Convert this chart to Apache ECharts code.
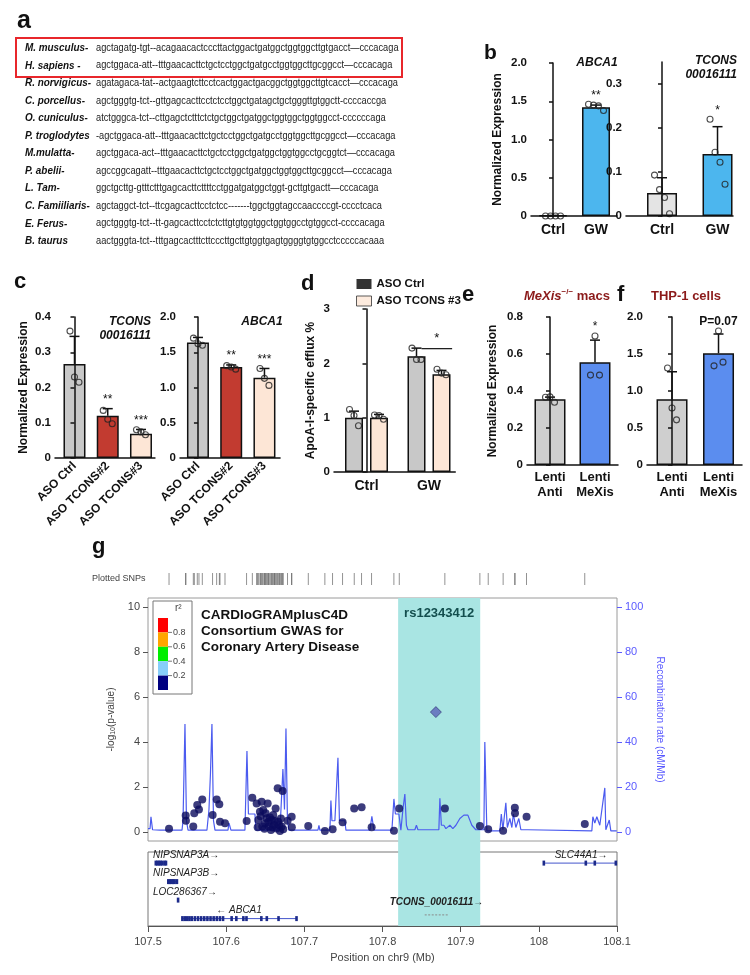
<!DOCTYPE html>
<html>
<head>
<meta charset="utf-8">
<script src="https://cdn.jsdelivr.net/npm/echarts@6/dist/echarts.min.js"></script>
<style>
html, body { margin: 0; padding: 0; background: #fff; }
#chart { width: 750px; height: 975px; }
</style>
</head>
<body>
<div id="chart"></div>
<script>
const FONT = '"Liberation Sans", Arial, sans-serif';

// ---- panel a : alignment
const seqSpecies = ['M. musculus-', 'H. sapiens -', 'R. norvigicus-', 'C. porcellus-', 'O. cuniculus-', 'P. troglodytes',
  'M.mulatta-', 'P. abelii-', 'L. Tam-', 'C. Famiiliaris-', 'E. Ferus-', 'B. taurus'];
const seqBases = [
  'agctagatg-tgt--acagaacactcccttactggactgatggctggtggcttgtgacct\u2014cccacaga',
  'agctggaca-att--tttgaacacttctgctcctggctgatgcctggtggcttgcggcct\u2014cccacaga',
  'agatagaca-tat--actgaagtcttcctcactggactgacggctggtggcttgtcacct\u2014cccacaga',
  'agctgggtg-tct--gttgagcacttcctctcctggctgatagctgctgggttgtggctt-ccccaccga',
  'atctgggca-tct--cttgagctctttctctgctggctgatggctggtggctggtggcct-ccccccaga',
  '-agctggaca-att--tttgaacacttctgctcctggctgatgcctggtggcttgcggcct\u2014cccacaga',
  'agctggaca-act--tttgaacacttctgctcctggctgatggctggtggcctgcggtct\u2014cccacaga',
  'agccggcagatt--tttgaacacttctgctcctggctgatggctggtggcttgcggcct\u2014cccacaga',
  'ggctgcttg-gtttctttgagcacttcttttcctggatgatggctggt-gcttgtgactt\u2014cccacaga',
  'agctaggct-tct--ttcgagcacttcctctcc-------tggctggtagccaaccccgt-cccctcaca',
  'agctgggtg-tct--tt-gagcacttcctctcttgtgtggtggctggtggcctgtggcct-ccccacaga',
  'aactgggta-tct--tttgagcactttcttcccttgcttgtggtgagtggggtgtggcctcccccacaaa'
];

// ---- panel b
const bCats = ['Ctrl', 'GW'];
const bAbcaMean = [0.006, 1.42];
const bAbcaSd = [0.002, 0.03];
const bAbcaPts = [[0, 0, 0, 0], [1.46, 1.45, 1.44, 1.38]];
const bAbcaSig = ['', '**'];
const bTconsMean = [0.052, 0.141];
const bTconsSd = [0.035, 0.062];
const bTconsPts = [[0.093, 0.06, 0.042, 0.005], [0.22, 0.145, 0.122, 0.072]];
const bTconsSig = ['', '*'];

// ---- panel c
const cCats = ['ASO Ctrl', 'ASO TCONS#2', 'ASO TCONS#3'];
const cTconsMean = [0.267, 0.12, 0.069];
const cTconsSd = [0.078, 0.02, 0.012];
const cTconsPts = [[0.36, 0.23, 0.215], [0.135, 0.11, 0.097], [0.08, 0.074, 0.066]];
const cTconsSig = ['', '**', '***'];
const cAbcaMean = [1.64, 1.29, 1.14];
const cAbcaSd = [0.07, 0.03, 0.13];
const cAbcaPts = [[1.7, 1.62, 1.6], [1.31, 1.29, 1.26], [1.27, 1.13, 1.03]];
const cAbcaSig = ['', '**', '***'];

// ---- panel d
const dCats = ['Ctrl', 'GW'];
const dCtrlMean = [1.0, 2.13];
const dCtrlSd = [0.12, 0.15];
const dCtrlPts = [[1.15, 1.04, 0.85], [2.28, 2.07, 2.07]];
const dTconsMean = [1.0, 1.8];
const dTconsSd = [0.06, 0.07];
const dTconsPts = [[1.05, 1.04, 0.97], [1.89, 1.82, 1.79]];
const dSig = [[0.88, 1.37, 2.27, '*']];

// ---- panels e / f
const efCats = ['Lenti\nAnti', 'Lenti\nMeXis'];
const eMean = [0.355, 0.555];
const eSd = [0.012, 0.12];
const ePts = [[0.366, 0.368, 0.339], [0.486, 0.697, 0.486]];
const eSig = ['', '*'];
const fMean = [0.89, 1.51];
const fSd = [0.37, 0.26];
const fPts = [[1.31, 0.77, 0.61], [1.34, 1.81, 1.39]];
const fSig = ['', 'P=0.07'];

// ---- panel g : locus zoom
const snpPos = [107.5269, 107.5482, 107.5485, 107.5579, 107.5592, 107.5630, 107.5652, 107.5694, 107.5827, 107.5879,
  107.5912, 107.5921, 107.5985, 107.6262, 107.6334, 107.6390, 107.6403, 107.6411, 107.6432, 107.6440, 107.6454,
  107.6462, 107.6474, 107.6490, 107.6496, 107.6505, 107.6518, 107.6531, 107.6540, 107.6547, 107.6560, 107.6573,
  107.6582, 107.6595, 107.6602, 107.6615, 107.6620, 107.6633, 107.6646, 107.6659, 107.6666, 107.6680, 107.6688,
  107.6700, 107.6710, 107.6722, 107.6730, 107.6786, 107.6838, 107.6840, 107.7050, 107.7263, 107.7362, 107.7490,
  107.7638, 107.7733, 107.7861, 107.8146, 107.8214, 107.8798, 107.9246, 107.9352, 107.9543, 107.9693, 107.9695,
  107.9843, 108.0588];
const snpLogP = [0.15, 0.73, 0.50, 0.24, 0.83, 1.20, 1.00, 1.45, 0.76, 1.45,
  1.23, 0.46, 0.39, 0.49, 1.52, 1.27, 0.21, 0.53, 0.90, 0.70, 1.35,
  0.24, 0.98, 0.15, 0.38, 0.83, 0.61, 1.27, 0.45, 0.24, 0.65, 0.09,
  0.53, 0.20, 0.76, 0.31, 0.50, 1.05, 0.16, 1.94, 0.46, 0.30, 0.04,
  0.60, 0.24, 1.82, 0.12, 0.50, 0.68, 0.21, 0.27, 0.04, 0.12, 0.43,
  1.05, 1.10, 0.21, 0.06, 1.05, 1.05, 0.27, 0.12, 0.06, 1.08, 0.83,
  0.68, 0.36];
const leadSnp = [107.8683, 5.33];
const leadName = 'rs12343412';
const hlRange = [107.82, 107.925];

const recPos = [107.5000, 107.5026, 107.5038, 107.5058, 107.5153, 107.5435, 107.5448, 107.5473, 107.5492, 107.5512,
  107.5754, 107.5780, 107.5799, 107.5818, 107.5838, 107.5857, 107.6023, 107.6036, 107.6061, 107.6240,
  107.6266, 107.6285, 107.6368, 107.6381, 107.6688, 107.6701, 107.6726, 107.6746, 107.6765, 107.6784,
  107.6803, 107.7174, 107.7187, 107.7199, 107.7327, 107.7340, 107.7353, 107.7391, 107.7430, 107.7449,
  107.7519, 107.7532, 107.7839, 107.7864, 107.7890, 107.8120, 107.8146, 107.8165, 107.8210, 107.8235,
  107.8261, 107.8286, 107.8306, 107.8325, 107.8414, 107.8434, 107.8453, 107.8721, 107.8734, 107.8753,
  107.8785, 107.8811, 107.8862, 107.8900, 107.8939, 107.8990, 107.9041, 107.9092, 107.9143, 107.9194,
  107.9246, 107.9297, 107.9309, 107.9335, 107.9501, 107.9520, 107.9540, 107.9578, 107.9597, 107.9629,
  107.9655, 107.9674, 107.9706, 107.9744, 107.9770, 107.9859, 107.9872, 108.0678, 108.0691, 108.0716,
  108.0742, 108.0780, 108.0844, 108.0857, 108.0901, 108.0921, 108.0997];
const recRate = [1.5, 1.5, 6.8, 1, 0.8, 0.8, 5, 48, 5, 0.8,
  0.8, 10, 26, 48, 5, 0.8, 0.8, 4, 0.8, 0.8,
  36, 8, 8, 0.8, 0.8, 10, 28, 10, 46, 5,
  0.8, 0.8, 3, 0.8, 0.8, 14, 5, 5, 33, 5,
  5, 0.8, 0.8, 7, 0.8, 0.8, 14.7, 8, 8, 0.8,
  10, 16.9, 3, 1, 1, 3, 1, 1, 15, 3,
  3, 1.5, 3, 1.5, 3, 6, 7.5, 7.5, 3, 1,
  1, 1, 40, 0.5, 0.5, 8, 1, 13, 2, 6,
  2, 8, 2, 6, 1, 1, 0.5, 0.5, 6.8, 4,
  6.8, 3, 19.6, 1, 5.3, 0.5, 0.5];

const geneNames = ['NIPSNAP3A', 'NIPSNAP3B', 'LOC286367', 'ABCA1', 'TCONS_00016111', 'SLC44A1'];
const geneStart = [107.510, 107.526, 107.538, 107.543, 107.854, 108.008];
const geneEnd = [107.523, 107.537, 107.539, 107.690, 107.884, 108.100];
const geneRow = [0, 1, 2, 3, 2.8, 0];
const geneStrand = ['+', '+', '+', '-', '+', '+'];
const geneExons = [
  [107.510, 107.512, 107.514, 107.516, 107.518, 107.521, 107.523],
  [107.526, 107.528, 107.530, 107.532, 107.534, 107.537],
  [107.5385],
  [107.544, 107.547, 107.550, 107.553, 107.556, 107.560, 107.564, 107.568, 107.572, 107.576, 107.580,
   107.584, 107.588, 107.592, 107.596, 107.607, 107.613, 107.622, 107.626, 107.645, 107.652, 107.667, 107.690],
  [],
  [108.0064, 108.0601, 108.0716, 108.0985]
];
const ldLabels = ['0.8', '0.6', '0.4', '0.2'];
const ldColors = ['#ff0000', '#ffa500', '#00ee00', '#87cefa', '#000080'];

const mctx = document.createElement('canvas').getContext('2d');
function textW(t, font) { mctx.font = font; return mctx.measureText(t).width; }

const grids = [], xAxes = [], yAxes = [], series = [], graphics = [];

function txt(text, x, y, font, extra) {
  graphics.push({ type: 'text', x, y, style: Object.assign({ text, font, fill: '#111', verticalAlign: 'middle' }, extra || {}) });
}

// generic bar panel: bars + upward error bars + dots (one x and one y axis per grid)
function addBarPanel(p) {
  const gi = grids.length;
  const xi = xAxes.length, yi = yAxes.length;
  const width = p.unit * (p.xMax - p.xMin);
  grids.push({ left: p.left, top: p.top, width, height: p.height });
  xAxes.push({
    type: 'value', gridIndex: gi, min: p.xMin, max: p.xMax, splitLine: { show: false }, z: 5,
    axisLine: { show: true, onZero: false, lineStyle: { color: '#111', width: 1.5 } },
    axisTick: { show: false },
    axisLabel: {
      customValues: p.cats.map((c, i) => i), formatter: v => p.cats[Math.round(v)] || '',
      color: '#111', fontWeight: 'bold', fontSize: p.catSize || 14, fontFamily: FONT,
      margin: p.catMargin || 7, rotate: p.rotate || 0, lineHeight: 15
    }
  });
  yAxes.push({
    type: 'value', gridIndex: gi, min: 0, max: p.yMax, splitLine: { show: false }, z: 5,
    axisLine: { show: true, lineStyle: { color: '#111', width: 1.5 } },
    axisTick: { show: true, length: 4, customValues: p.yTicks, lineStyle: { color: '#111', width: 1.5 } },
    axisLabel: {
      customValues: p.yTicks, formatter: v => v === 0 ? '0' : v.toFixed(p.dec),
      color: '#111', fontWeight: 'bold', fontSize: 11.5, fontFamily: FONT, margin: 4
    },
    name: p.yName || '', nameLocation: 'middle', nameGap: p.nameGap || 28,
    nameTextStyle: { color: '#111', fontWeight: 'bold', fontSize: 12, fontFamily: FONT }
  });
  const bars = [], errs = [], pts = [];
  p.groups.forEach(g => {
    g.mean.forEach((m, i) => {
      const x = i + (g.offset || 0);
      bars.push({ value: [x, m], itemStyle: { color: Array.isArray(g.color) ? g.color[i] : g.color } });
      const top = Math.max(m + g.sd[i], ...g.pts[i]);
      errs.push({ value: [x, m, m + g.sd[i], top], sig: g.sig ? g.sig[i] : '' });
      const n = g.pts[i].length;
      g.pts[i].forEach((v, j) => pts.push([x + (j - (n - 1) / 2) * p.jitter / p.unit, v]));
    });
  });
  series.push({
    type: 'bar', xAxisIndex: xi, yAxisIndex: yi, barWidth: p.barWidth, data: bars, silent: true, z: 2,
    itemStyle: { borderColor: '#111', borderWidth: 1.5 }
  });
  series.push({
    type: 'custom', xAxisIndex: xi, yAxisIndex: yi, data: errs, silent: true, z: 3,
    renderItem: (params, api) => {
      const d = errs[params.dataIndex];
      const b = api.coord([d.value[0], d.value[1]]);
      const t = api.coord([d.value[0], d.value[2]]);
      const a = api.coord([d.value[0], d.value[3]]);
      const ch = [
        { type: 'line', shape: { x1: b[0], y1: b[1], x2: t[0], y2: t[1] }, style: { stroke: '#111', lineWidth: 1.5 } },
        { type: 'line', shape: { x1: t[0] - 5, y1: t[1], x2: t[0] + 5, y2: t[1] }, style: { stroke: '#111', lineWidth: 1.5 } }
      ];
      if (d.sig) ch.push({ type: 'text', x: a[0], y: a[1] - 3, style: { text: d.sig, align: 'center', verticalAlign: 'bottom', font: p.sigFont || ('12px ' + FONT), fill: '#111' } });
      return { type: 'group', children: ch };
    }
  });
  series.push({
    type: 'scatter', xAxisIndex: xi, yAxisIndex: yi, data: pts, symbolSize: 6, silent: true, z: 4,
    itemStyle: { color: 'rgba(255,255,255,0)', borderColor: '#222', borderWidth: 1.1 }
  });
  return { xi, yi };
}

// ===== panel a
txt('a', 17, 21, 'bold 25px ' + FONT);
const nameFont = 'italic bold 11px ' + FONT;
const seqFont = '10.5px ' + FONT;
seqSpecies.forEach((n, i) => {
  const y = 48 + i * 17.55;
  graphics.push({ type: 'text', x: 25, y, scaleX: 0.9, style: { text: n, font: nameFont, fill: '#111', verticalAlign: 'middle' } });
  const sx = Math.max(96, 25 + textW(n, nameFont) * 0.9 + 0.5);
  graphics.push({ type: 'text', x: sx, y, scaleX: 0.88, style: { text: seqBases[i], font: seqFont, fill: '#222', verticalAlign: 'middle' } });
});
graphics.push({ type: 'rect', shape: { x: 16, y: 38, width: 386, height: 39 }, style: { fill: 'none', stroke: '#e8262b', lineWidth: 2 } });

// ===== panel b
txt('b', 484, 53, 'bold 21px ' + FONT);
addBarPanel({
  left: 531, top: 63, height: 153, unit: 43, xMin: -0.512, xMax: 1.488, cats: bCats,
  yMax: 2, yTicks: [0, 0.5, 1, 1.5, 2], dec: 1, yName: 'Normalized Expression', nameGap: 27,
  barWidth: 28, jitter: 5,
  groups: [{ mean: bAbcaMean, sd: bAbcaSd, pts: bAbcaPts, sig: bAbcaSig, color: ['#e4e4e4', '#4cb6ee'] }]
});
addBarPanel({
  left: 626, top: 62, height: 154, unit: 55.5, xMin: -0.649, xMax: 1.279, cats: bCats,
  yMax: 0.35, yTicks: [0, 0.1, 0.2, 0.3], dec: 1,
  barWidth: 30, jitter: 5,
  groups: [{ mean: bTconsMean, sd: bTconsSd, pts: bTconsPts, sig: bTconsSig, color: ['#e4e4e4', '#4cb6ee'] }]
});
txt('ABCA1', 597, 63, 'italic bold 12px ' + FONT, { align: 'center' });
txt('TCONS', 737, 61, 'italic bold 12px ' + FONT, { align: 'right' });
txt('00016111', 737, 75, 'italic bold 12px ' + FONT, { align: 'right' });

// ===== panel c
txt('c', 14, 282, 'bold 22px ' + FONT);
const cColors = ['#c8c8c8', '#c23b30', '#fde6d6'];
addBarPanel({
  left: 55, top: 317, height: 141, unit: 33.25, xMin: -0.586, xMax: 2.42, cats: cCats,
  yMax: 0.4, yTicks: [0, 0.1, 0.2, 0.3, 0.4], dec: 1, yName: 'Normalized Expression', nameGap: 25,
  barWidth: 22, jitter: 4.5, rotate: 45, catSize: 12, catMargin: 6,
  groups: [{ mean: cTconsMean, sd: cTconsSd, pts: cTconsPts, sig: cTconsSig, color: cColors }]
});
addBarPanel({
  left: 180, top: 317, height: 141, unit: 33.25, xMin: -0.54, xMax: 2.47, cats: cCats,
  yMax: 2, yTicks: [0, 0.5, 1, 1.5, 2], dec: 1,
  barWidth: 22, jitter: 4.5, rotate: 45, catSize: 12, catMargin: 6,
  groups: [{ mean: cAbcaMean, sd: cAbcaSd, pts: cAbcaPts, sig: cAbcaSig, color: cColors }]
});
txt('TCONS', 151, 322, 'italic bold 12px ' + FONT, { align: 'right' });
txt('00016111', 151, 336, 'italic bold 12px ' + FONT, { align: 'right' });
txt('ABCA1', 262, 322, 'italic bold 12px ' + FONT, { align: 'center' });

// ===== panel d
txt('d', 301, 284, 'bold 22px ' + FONT);
const dAx = addBarPanel({
  left: 334, top: 309, height: 163, unit: 62.5, xMin: -0.52, xMax: 1.42, cats: dCats,
  yMax: 3, yTicks: [0, 1, 2, 3], dec: 0, yName: 'ApoA-I-specific efflux %', nameGap: 17,
  barWidth: 18, jitter: 4.5,
  groups: [
    { mean: dCtrlMean, sd: dCtrlSd, pts: dCtrlPts, color: '#c8c8c8', offset: -0.2 },
    { mean: dTconsMean, sd: dTconsSd, pts: dTconsPts, color: '#fde6d6', offset: 0.2 }
  ]
});
series.push({
  type: 'custom', xAxisIndex: dAx.xi, yAxisIndex: dAx.yi, data: dSig, silent: true, z: 5,
  renderItem: (params, api) => {
    const d = dSig[params.dataIndex];
    const a = api.coord([d[0], d[2]]);
    const b = api.coord([d[1], d[2]]);
    return { type: 'group', children: [
      { type: 'line', shape: { x1: a[0], y1: a[1], x2: b[0], y2: b[1] }, style: { stroke: '#111', lineWidth: 1.2 } },
      { type: 'text', x: (a[0] + b[0]) / 2, y: a[1] - 4, style: { text: d[3], align: 'center', verticalAlign: 'bottom', font: '13px ' + FONT, fill: '#111' } }
    ] };
  }
});
series.push({ type: 'scatter', name: 'ASO Ctrl', xAxisIndex: dAx.xi, yAxisIndex: dAx.yi, data: [] });
series.push({ type: 'scatter', name: 'ASO TCONS #3', xAxisIndex: dAx.xi, yAxisIndex: dAx.yi, data: [] });

// ===== panels e, f
txt('e', 462, 295, 'bold 22px ' + FONT);
graphics.push({ type: 'text', x: 524, y: 296, style: {
  text: '{i|MeXis}{s|\u2212/\u2212}{n| macs}', verticalAlign: 'middle', fill: '#8b1a1a',
  rich: { i: { font: 'italic bold 13px ' + FONT, fill: '#8b1a1a' }, s: { font: 'bold 8px ' + FONT, fill: '#8b1a1a', padding: [0, 0, 8, 0] }, n: { font: 'bold 13px ' + FONT, fill: '#8b1a1a' } }
} });
addBarPanel({
  left: 527, top: 317, height: 148, unit: 45, xMin: -0.511, xMax: 1.511, cats: efCats,
  yMax: 0.8, yTicks: [0, 0.2, 0.4, 0.6, 0.8], dec: 1, yName: 'Normalized Expression', nameGap: 28,
  barWidth: 31, jitter: 4.5, catSize: 13, catMargin: 5, sigFont: '12px ' + FONT,
  groups: [{ mean: eMean, sd: eSd, pts: ePts, sig: eSig, color: ['#cfcfcf', '#5b8def'] }]
});
txt('f', 617, 295, 'bold 22px ' + FONT);
txt('THP-1 cells', 686, 296, 'bold 13px ' + FONT, { align: 'center', fill: '#8b1a1a' });
addBarPanel({
  left: 647, top: 317, height: 148, unit: 46.5, xMin: -0.538, xMax: 1.505, cats: efCats,
  yMax: 2, yTicks: [0, 0.5, 1, 1.5, 2], dec: 1,
  barWidth: 31, jitter: 4.5, catSize: 13, catMargin: 5, sigFont: 'bold 12px ' + FONT,
  groups: [{ mean: fMean, sd: fSd, pts: fPts, sig: fSig, color: ['#cfcfcf', '#5b8def'] }]
});

// ===== panel g
txt('g', 92, 547, 'bold 22px ' + FONT);
const gLeft = 148, gWidth = 469;

// main association plot
const gMain = grids.length, xMain = xAxes.length, yMain = yAxes.length, yRec = yAxes.length + 1;
grids.push({ left: gLeft, top: 598, width: gWidth, height: 243, show: true, borderColor: '#9a9a9a', borderWidth: 1 });
xAxes.push({ type: 'value', gridIndex: gMain, min: 107.5, max: 108.1, show: false });
yAxes.push({
  type: 'value', gridIndex: gMain, min: -0.4, max: 10.4, splitLine: { show: false }, axisLine: { show: false },
  axisTick: { show: true, length: 5, customValues: [0, 2, 4, 6, 8, 10], lineStyle: { color: '#555' } },
  axisLabel: { customValues: [0, 2, 4, 6, 8, 10], color: '#444', fontSize: 11, fontFamily: FONT, margin: 8 },
  name: '-log{s|10}(p-value)', nameLocation: 'middle', nameGap: 27,
  nameTextStyle: { color: '#444', fontSize: 10, fontFamily: FONT, rich: { s: { fontSize: 7, color: '#444', padding: [5, 0, 0, 0] } } }
});
yAxes.push({
  type: 'value', gridIndex: gMain, position: 'right', min: -4, max: 104, splitLine: { show: false }, axisLine: { show: false },
  axisTick: { show: true, length: 5, customValues: [0, 20, 40, 60, 80, 100], lineStyle: { color: '#5a5aff' } },
  axisLabel: { customValues: [0, 20, 40, 60, 80, 100], color: '#5a5aff', fontSize: 11, fontFamily: FONT, margin: 8 },
  name: 'Recombination rate (cM/Mb)', nameLocation: 'middle', nameGap: 30, nameRotate: -90,
  nameTextStyle: { color: '#5a5aff', fontSize: 10, fontFamily: FONT }
});
series.push({
  type: 'line', xAxisIndex: xMain, yAxisIndex: yRec, data: recPos.map((p, i) => [p, recRate[i]]),
  showSymbol: false, silent: true, z: 3, lineStyle: { color: '#4b5bef', width: 1.2 }
});
series.push({
  type: 'scatter', xAxisIndex: xMain, yAxisIndex: yMain, data: snpPos.map((p, i) => [p, snpLogP[i]]),
  symbolSize: 8, silent: true, z: 4, itemStyle: { color: '#0b0b5c' }
});
series.push({
  type: 'scatter', xAxisIndex: xMain, yAxisIndex: yMain, data: [leadSnp], symbol: 'diamond',
  symbolSize: 11, silent: true, z: 5, itemStyle: { color: '#5b63b8', borderColor: '#2a2f6e', borderWidth: 0.8 }
});

// gene track
const gGene = grids.length, xGene = xAxes.length, yGene = yAxes.length;
grids.push({ left: gLeft, top: 852, width: gWidth, height: 74, show: true, borderColor: '#777', borderWidth: 1 });
xAxes.push({
  type: 'value', gridIndex: gGene, position: 'bottom', min: 107.5, max: 108.1, splitLine: { show: false },
  axisLine: { show: true, onZero: false, lineStyle: { color: '#555' } },
  axisTick: { show: true, length: 6, customValues: [107.5, 107.6, 107.7, 107.8, 107.9, 108, 108.1], lineStyle: { color: '#555' } },
  axisLabel: { customValues: [107.5, 107.6, 107.7, 107.8, 107.9, 108, 108.1], formatter: v => String(+v.toFixed(1)), color: '#444', fontSize: 11, fontFamily: FONT, margin: 10 },
  name: 'Position on chr9 (Mb)', nameLocation: 'middle', nameGap: 26,
  nameTextStyle: { color: '#444', fontSize: 11, fontFamily: FONT }
});
yAxes.push({ type: 'value', gridIndex: gGene, min: 0, max: 4, inverse: true, show: false });
series.push({
  type: 'custom', xAxisIndex: xGene, yAxisIndex: yGene, silent: true, z: 4,
  data: geneNames.map((n, i) => [geneStart[i], geneEnd[i], geneRow[i] + 0.6]),
  renderItem: (params, api) => {
    const i = params.dataIndex;
    const s = api.coord([api.value(0), api.value(2)]);
    const e = api.coord([api.value(1), api.value(2)]);
    const lnc = geneNames[i].startsWith('TCONS');
    const label = geneStrand[i] === '+' ? geneNames[i] + '\u2192' : '\u2190 ' + geneNames[i];
    const font = (lnc ? 'italic bold ' : 'italic ') + '10px ' + FONT;
    const w = textW(label, font);
    const cs = params.coordSys;
    let x = (s[0] + e[0]) / 2 - w / 2;
    x = Math.max(cs.x + 5, Math.min(x, cs.x + cs.width - w - 1));
    return { type: 'group', children: [
      { type: 'line', shape: { x1: s[0], y1: s[1], x2: e[0], y2: e[1] }, style: { stroke: lnc ? '#8a8a8a' : '#4455cc', lineWidth: 1, lineDash: lnc ? [2, 1.5] : null } },
      { type: 'text', x, y: s[1] - (lnc ? 8 : 3), style: { text: label, font, fill: '#222', verticalAlign: 'bottom' } }
    ] };
  }
});
const exonData = [];
geneExons.forEach((ex, g) => ex.forEach(p => exonData.push([p, geneRow[g] + 0.6])));
series.push({
  type: 'custom', xAxisIndex: xGene, yAxisIndex: yGene, silent: true, z: 5, data: exonData,
  renderItem: (params, api) => {
    const c = api.coord([api.value(0), api.value(1)]);
    return { type: 'rect', shape: { x: c[0] - 1.3, y: c[1] - 2.5, width: 2.6, height: 5 }, style: { fill: '#1c2a8a' } };
  }
});

// highlight band over both panels
const gBand = grids.length, xBand = xAxes.length, yBand = yAxes.length;
grids.push({ left: gLeft, top: 598, width: gWidth, height: 328 });
xAxes.push({ type: 'value', gridIndex: gBand, min: 107.5, max: 108.1, show: false });
yAxes.push({ type: 'value', gridIndex: gBand, min: 0, max: 1, show: false });
series.push({
  type: 'line', xAxisIndex: xBand, yAxisIndex: yBand, data: [], z: 1, silent: true,
  markArea: {
    silent: true, itemStyle: { color: '#a9e5e3' },
    label: { show: true, position: 'insideTop', distance: 9, formatter: leadName, color: '#134e4e', fontWeight: 'bold', fontSize: 13, fontFamily: FONT },
    data: [[{ xAxis: hlRange[0] }, { xAxis: hlRange[1] }]]
  }
});

// plotted SNP rug
const gRug = grids.length, xRug = xAxes.length, yRug = yAxes.length;
grids.push({ left: gLeft, top: 572, width: gWidth, height: 14 });
xAxes.push({ type: 'value', gridIndex: gRug, min: 107.5, max: 108.1, show: false });
yAxes.push({ type: 'value', gridIndex: gRug, min: 0, max: 1, show: false });
series.push({
  type: 'scatter', xAxisIndex: xRug, yAxisIndex: yRug, data: snpPos.map(p => [p, 0.5]), silent: true,
  symbol: 'rect', symbolSize: [0.8, 12], itemStyle: { color: '#555' }
});
txt('Plotted SNPs', 92, 579, '9px ' + FONT, { fill: '#444' });

// r^2 legend box
graphics.push({ type: 'rect', shape: { x: 153, y: 601, width: 39, height: 93 }, style: { fill: '#fff', stroke: '#777', lineWidth: 1 }, z: 10 });
ldColors.forEach((c, i) => {
  graphics.push({ type: 'rect', shape: { x: 158, y: 618 + i * 14.4, width: 10, height: 14.4 }, style: { fill: c }, z: 11 });
});
ldLabels.forEach((l, i) => {
  const y = 618 + (i + 1) * 14.4;
  graphics.push({ type: 'line', shape: { x1: 168, y1: y, x2: 172, y2: y }, style: { stroke: '#555', lineWidth: 0.8 }, z: 11 });
  graphics.push({ type: 'text', x: 173, y, z: 11, style: { text: l, font: '9px ' + FONT, fill: '#444', verticalAlign: 'middle' } });
});
graphics.push({ type: 'text', x: 175, y: 608, z: 11, style: { text: 'r\u00b2', font: '10px ' + FONT, fill: '#444', verticalAlign: 'middle' } });
['CARDIoGRAMplusC4D', 'Consortium GWAS for', 'Coronary Artery Disease'].forEach((l, i) => {
  graphics.push({ type: 'text', x: 201, y: 615 + i * 16, z: 11, style: { text: l, font: 'bold 13.5px ' + FONT, fill: '#111', verticalAlign: 'middle' } });
});

const chart = echarts.init(document.getElementById('chart'), null, { renderer: 'canvas' });
chart.setOption({
  animation: false,
  backgroundColor: '#fff',
  textStyle: { fontFamily: FONT },
  grid: grids,
  xAxis: xAxes,
  yAxis: yAxes,
  legend: {
    left: 351, top: 273, orient: 'vertical', itemWidth: 15, itemHeight: 10, itemGap: 5, selectedMode: false,
    textStyle: { fontWeight: 'bold', fontSize: 11.5, color: '#111', fontFamily: FONT },
    data: [
      { name: 'ASO Ctrl', icon: 'rect', itemStyle: { color: '#000' } },
      { name: 'ASO TCONS #3', icon: 'rect', itemStyle: { color: '#fde6d6', borderColor: '#333', borderWidth: 1 } }
    ]
  },
  graphic: { elements: graphics },
  series
});
</script>
</body>
</html>
